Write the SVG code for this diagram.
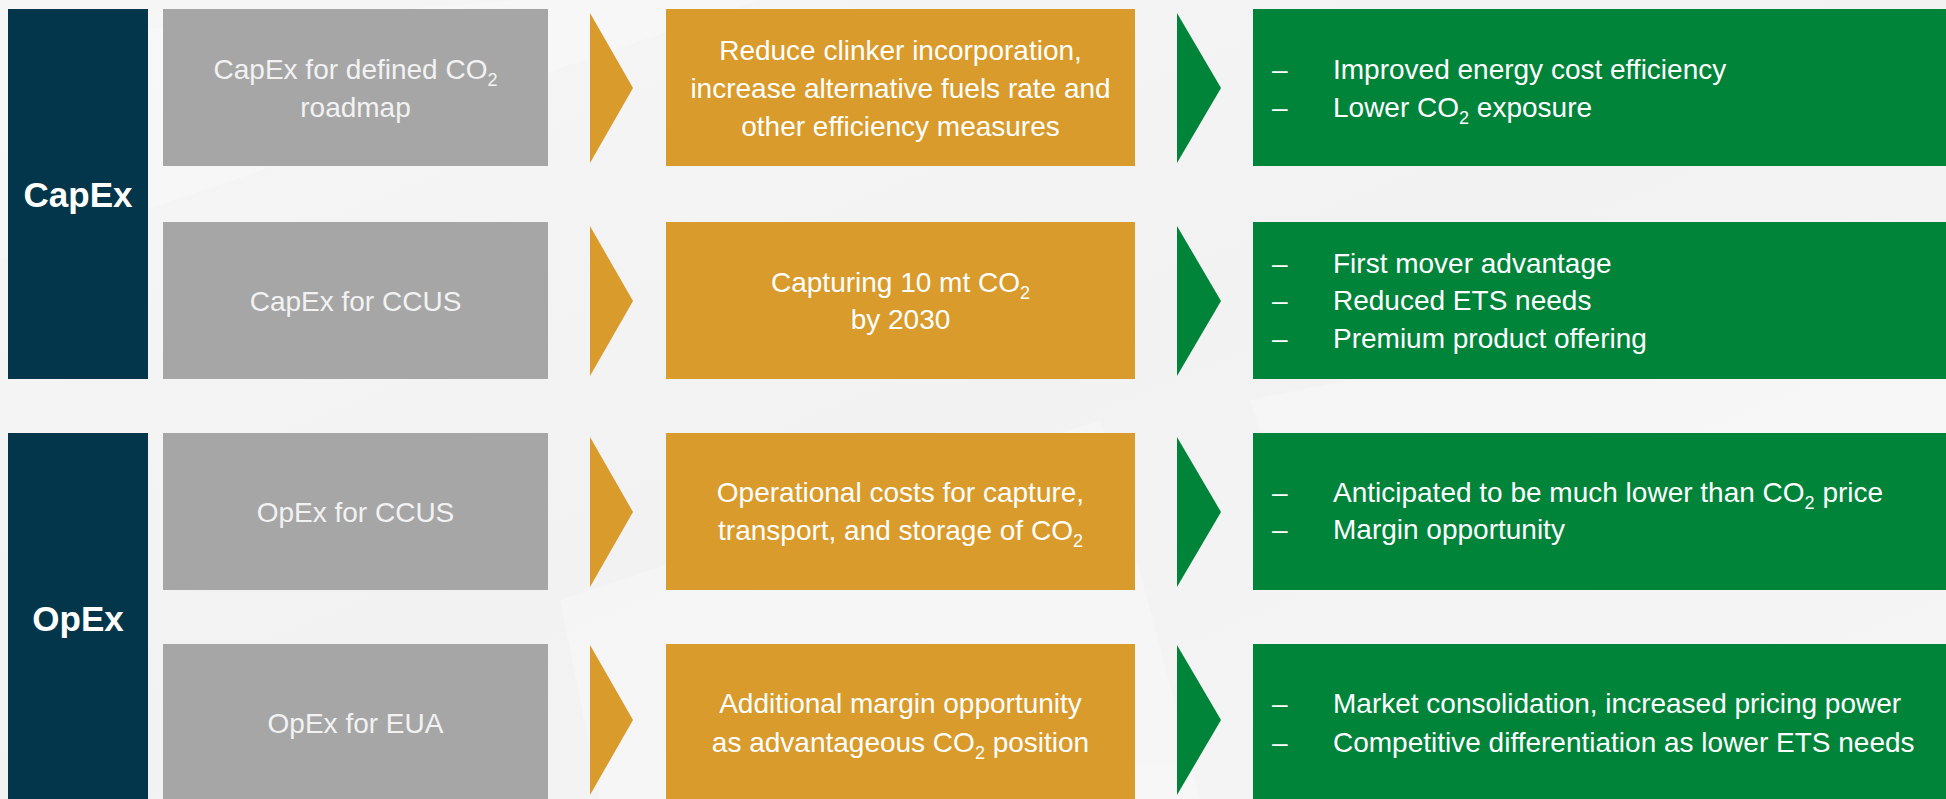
<svg xmlns="http://www.w3.org/2000/svg" width="1946" height="799" viewBox="0 0 1946 799">
  <defs>
    <style>
      .navy { fill: #03364A; }
      .gray { fill: #A6A6A6; }
      .gold { fill: #D99B2B; }
      .green { fill: #00843A; }
      .head { font-family: "Liberation Sans", Arial, sans-serif; font-weight: bold; font-size: 35px; fill: #FFFFFF; text-anchor: middle; }
      .t { font-family: "Liberation Sans", Arial, sans-serif; font-size: 28px; fill: #FFFFFF; }
      .c { text-anchor: middle; }
      .gt { fill: #F2F2F2; }
      .sub { font-size: 18px; }
    </style>
    <linearGradient id="bg" x1="0" y1="0" x2="1" y2="1">
      <stop offset="0" stop-color="#F6F6F6"/>
      <stop offset="0.5" stop-color="#F2F2F2"/>
      <stop offset="1" stop-color="#F5F5F5"/>
    </linearGradient>
  </defs>

  <rect x="0" y="0" width="1946" height="799" fill="url(#bg)"/>
  <g id="background" fill="#FFFFFF" opacity="0.25">
    <polygon points="0,40 520,0 760,0 0,260"/>
    <polygon points="1250,400 1946,260 1946,470 1300,560"/>
    <polygon points="560,600 1100,420 1200,799 600,799"/>
  </g>

  <g id="capex-label">
    <rect class="navy" x="8" y="9" width="140" height="370"/>
    <text class="head" x="78" y="207">CapEx</text>
  </g>
  <g id="opex-label">
    <rect class="navy" x="8" y="433" width="140" height="366"/>
    <text class="head" x="78" y="631">OpEx</text>
  </g>

  <g id="input-1">
    <rect class="gray" x="163" y="9" width="385" height="157"/>
    <text class="t c gt" x="355.5" y="79">CapEx for defined CO<tspan class="sub" dy="7">2</tspan></text>
    <text class="t c gt" x="355.5" y="117">roadmap</text>
  </g>
  <g id="input-2">
    <rect class="gray" x="163" y="222" width="385" height="157"/>
    <text class="t c gt" x="355.5" y="311">CapEx for CCUS</text>
  </g>
  <g id="input-3">
    <rect class="gray" x="163" y="433" width="385" height="157"/>
    <text class="t c gt" x="355.5" y="522">OpEx for CCUS</text>
  </g>
  <g id="input-4">
    <rect class="gray" x="163" y="644" width="385" height="157"/>
    <text class="t c gt" x="355.5" y="733">OpEx for EUA</text>
  </g>

  <g id="action-1">
    <rect class="gold" x="666" y="9" width="469" height="157"/>
    <text class="t c" x="900.5" y="60">Reduce clinker incorporation,</text>
    <text class="t c" x="900.5" y="98">increase alternative fuels rate and</text>
    <text class="t c" x="900.5" y="136">other efficiency measures</text>
  </g>
  <g id="action-2">
    <rect class="gold" x="666" y="222" width="469" height="157"/>
    <text class="t c" x="900.5" y="292">Capturing 10 mt CO<tspan class="sub" dy="7">2</tspan></text>
    <text class="t c" x="900.5" y="329">by 2030</text>
  </g>
  <g id="action-3">
    <rect class="gold" x="666" y="433" width="469" height="157"/>
    <text class="t c" x="900.5" y="502">Operational costs for capture,</text>
    <text class="t c" x="900.5" y="540">transport, and storage of CO<tspan class="sub" dy="7">2</tspan></text>
  </g>
  <g id="action-4">
    <rect class="gold" x="666" y="644" width="469" height="157"/>
    <text class="t c" x="900.5" y="713">Additional margin opportunity</text>
    <text class="t c" x="900.5" y="752">as advantageous CO<tspan class="sub" dy="7">2</tspan><tspan dy="-7"> position</tspan></text>
  </g>

  <g id="outcome-1">
    <rect class="green" x="1253" y="9" width="693" height="157"/>
    <text class="t" x="1272" y="79">–</text>
    <text class="t" x="1333" y="79">Improved energy cost efficiency</text>
    <text class="t" x="1272" y="117">–</text>
    <text class="t" x="1333" y="117">Lower CO<tspan class="sub" dy="7">2</tspan><tspan dy="-7"> exposure</tspan></text>
  </g>
  <g id="outcome-2">
    <rect class="green" x="1253" y="222" width="693" height="157"/>
    <text class="t" x="1272" y="273">–</text>
    <text class="t" x="1333" y="273">First mover advantage</text>
    <text class="t" x="1272" y="310">–</text>
    <text class="t" x="1333" y="310">Reduced ETS needs</text>
    <text class="t" x="1272" y="348">–</text>
    <text class="t" x="1333" y="348">Premium product offering</text>
  </g>
  <g id="outcome-3">
    <rect class="green" x="1253" y="433" width="693" height="157"/>
    <text class="t" x="1272" y="502">–</text>
    <text class="t" x="1333" y="502">Anticipated to be much lower than CO<tspan class="sub" dy="7">2</tspan><tspan dy="-7"> price</tspan></text>
    <text class="t" x="1272" y="539">–</text>
    <text class="t" x="1333" y="539">Margin opportunity</text>
  </g>
  <g id="outcome-4">
    <rect class="green" x="1253" y="644" width="693" height="157"/>
    <text class="t" x="1272" y="713">–</text>
    <text class="t" x="1333" y="713">Market consolidation, increased pricing power</text>
    <text class="t" x="1272" y="752">–</text>
    <text class="t" x="1333" y="752">Competitive differentiation as lower ETS needs</text>
  </g>

  <g id="connectors">
    <polygon class="gold" points="590,13 633,88 590,163"/>
    <polygon class="gold" points="590,226 633,301 590,376"/>
    <polygon class="gold" points="590,437 633,512 590,587"/>
    <polygon class="gold" points="590,645 633,720 590,795"/>
    <polygon class="green" points="1177,13 1221,88 1177,163"/>
    <polygon class="green" points="1177,226 1221,301 1177,376"/>
    <polygon class="green" points="1177,437 1221,512 1177,587"/>
    <polygon class="green" points="1177,645 1221,720 1177,795"/>
  </g>
</svg>
